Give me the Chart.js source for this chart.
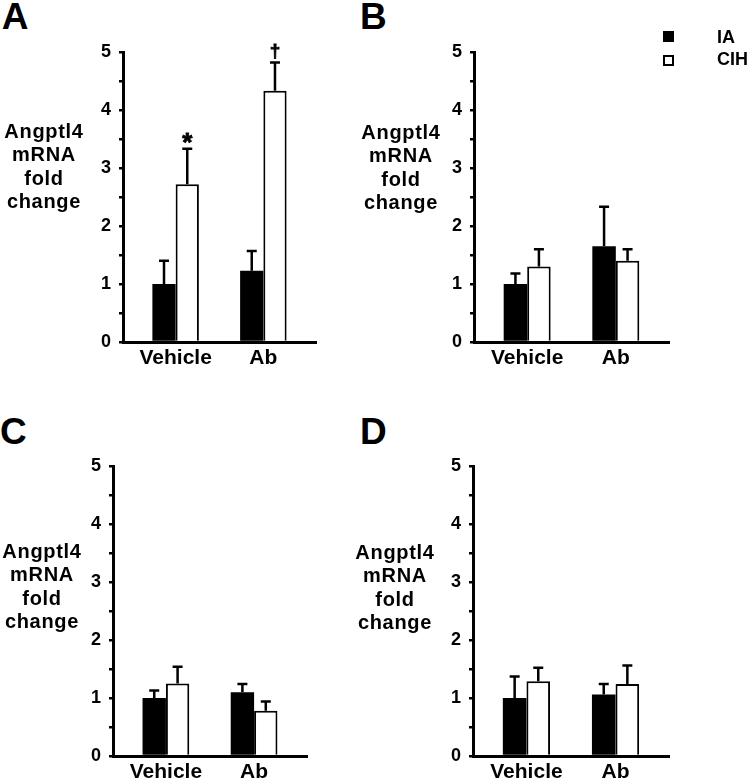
<!DOCTYPE html>
<html>
<head>
<meta charset="utf-8">
<script src="https://cdn.jsdelivr.net/npm/chart.js@4"></script>
<style>
  html, body { margin: 0; padding: 0; background: #fff; }
  #wrap { position: relative; width: 752px; height: 780px; overflow: hidden;
          font-family: "Liberation Sans", Arial, sans-serif; font-weight: bold; color: #000; }
  canvas { position: absolute; }
  .letter { position: absolute; font-size: 37px; line-height: 37px; }
  .ytitle { position: absolute; width: 110px; font-size: 20px; line-height: 23.4px; text-align: center; letter-spacing: 0.7px; }
  .lgbox { position: absolute; width: 11px; height: 11px; box-sizing: border-box; border: 2px solid #000; }
  .lgtext { position: absolute; font-size: 18px; line-height: 18px; }
</style>
</head>
<body>
<div id="wrap"></div>
<script>
// ---------- data ----------
const categories = ['Vehicle', 'Ab'];
const seriesNames = ['IA', 'CIH'];
const yTitleLines = ['Angptl4', 'mRNA', 'fold', 'change'];
const panelLetters = ['A', 'B', 'C', 'D'];

const meanA_IA  = [1.00, 1.23];
const semA_IA   = [0.40, 0.34];
const meanA_CIH = [2.72, 4.33];
const semA_CIH  = [0.61, 0.49];
const marksA_CIH = ['*', '\u2020'];

const meanB_IA  = [1.00, 1.65];
const semB_IA   = [0.18, 0.68];
const meanB_CIH = [1.30, 1.40];
const semB_CIH  = [0.30, 0.20];

const meanC_IA  = [1.00, 1.10];
const semC_IA   = [0.13, 0.14];
const meanC_CIH = [1.25, 0.78];
const semC_CIH  = [0.29, 0.16];

const meanD_IA  = [1.00, 1.06];
const semD_IA   = [0.37, 0.18];
const meanD_CIH = [1.29, 1.24];
const semD_CIH  = [0.23, 0.32];

const yMin = 0, yMax = 5, yStep = 0.5;

// ---------- layout ----------
const FONT = '"Liberation Sans", Arial, sans-serif';
Chart.defaults.font.family = FONT;
Chart.defaults.color = '#000';

const panels = [
  { letter: panelLetters[0], area: { l: 123, r: 316, t: 52, b: 342 }, letterPos: [1.7, -2], title: [44, 119.7],
    ia: [meanA_IA, semA_IA], cih: [meanA_CIH, semA_CIH], marks: marksA_CIH },
  { letter: panelLetters[1], area: { l: 474, r: 669, t: 52, b: 342 }, letterPos: [360, -2], title: [401, 120.7],
    ia: [meanB_IA, semB_IA], cih: [meanB_CIH, semB_CIH], marks: null },
  { letter: panelLetters[2], area: { l: 113, r: 307, t: 466, b: 756 }, letterPos: [0, 413], title: [42, 539.7],
    ia: [meanC_IA, semC_IA], cih: [meanC_CIH, semC_CIH], marks: null },
  { letter: panelLetters[3], area: { l: 473, r: 669, t: 466, b: 756 }, letterPos: [360, 413], title: [395, 540.7],
    ia: [meanD_IA, semD_IA], cih: [meanD_CIH, semD_CIH], marks: null }
];

const YW = 70, PT = 20, PR = 20, XH = 40;

const errorBars = {
  id: 'errorBars',
  afterDatasetsDraw(chart) {
    const ctx = chart.ctx;
    const ys = chart.scales.y;
    chart.data.datasets.forEach((ds, di) => {
      const meta = chart.getDatasetMeta(di);
      meta.data.forEach((bar, i) => {
        const top = ys.getPixelForValue(ds.data[i].y + ds.sem[i]);
        ctx.save();
        ctx.strokeStyle = '#000';
        ctx.lineWidth = 2.5;
        ctx.beginPath();
        ctx.moveTo(bar.x, bar.y);
        ctx.lineTo(bar.x, top);
        ctx.moveTo(bar.x - 5, top);
        ctx.lineTo(bar.x + 5, top);
        ctx.stroke();
        const mark = ds.marks ? ds.marks[i] : '';
        if (mark) {
          ctx.fillStyle = '#000';
          ctx.textAlign = 'center';
          ctx.textBaseline = 'alphabetic';
          ctx.lineWidth = 0.8;
          if (mark === '*') {
            ctx.font = 'bold 26px ' + FONT;
            ctx.fillText(mark, bar.x, top + 2);
            ctx.strokeText(mark, bar.x, top + 2);
          } else {
            ctx.font = 'bold 19px ' + FONT;
            ctx.fillText(mark, bar.x, top - 5.5);
            ctx.strokeText(mark, bar.x, top - 5.5);
          }
        }
        ctx.restore();
      });
    });
  }
};

const wrap = document.getElementById('wrap');

panels.forEach(p => {
  const a = p.area;
  const cw = (a.r - a.l) + YW + PR;
  const ch = (a.b - a.t) + PT + XH;
  const cv = document.createElement('canvas');
  cv.width = cw; cv.height = ch;
  cv.style.left = (a.l - YW) + 'px';
  cv.style.top = (a.t - PT) + 'px';
  cv.style.width = cw + 'px';
  cv.style.height = ch + 'px';
  wrap.appendChild(cv);

  new Chart(cv.getContext('2d'), {
    type: 'bar',
    data: {
      datasets: [
        { label: seriesNames[0], data: p.ia[0].map((v, i) => ({ x: i, y: v })), sem: p.ia[1],
          backgroundColor: '#000', borderColor: '#000', borderWidth: 0 },
        { label: seriesNames[1], data: p.cih[0].map((v, i) => ({ x: i, y: v })), sem: p.cih[1], marks: p.marks,
          backgroundColor: '#fff', borderColor: '#000', borderWidth: 2 }
      ]
    },
    options: {
      responsive: false,
      animation: false,
      devicePixelRatio: 1,
      categoryPercentage: 0.53,
      barPercentage: 1,
      layout: { padding: { top: PT, right: PR, left: 0, bottom: 0 } },
      plugins: { legend: { display: false }, tooltip: { enabled: false } },
      scales: {
        x: {
          type: 'linear', min: -0.6, max: 1.6, offset: false,
          grid: { display: false, drawTicks: false, offset: false },
          border: { display: true, color: '#000', width: 3 },
          afterBuildTicks: s => { s.ticks = categories.map((c, i) => ({ value: i })); },
          afterFit: s => { s.height = XH; },
          ticks: { callback: v => categories[v], font: { size: 21, weight: 'bold' }, color: '#000',
                   padding: 4, maxRotation: 0, autoSkip: false }
        },
        y: {
          min: yMin, max: yMax,
          grid: { drawOnChartArea: false, drawTicks: true, tickLength: 4, color: '#000', lineWidth: 2.5 },
          border: { display: true, color: '#000', width: 3 },
          afterFit: s => { s.width = YW; },
          ticks: { stepSize: yStep, autoSkip: false, padding: 8, color: '#000',
                   font: { size: 18, weight: 'bold' },
                   callback: v => Number.isInteger(v) ? String(v) : '' }
        }
      }
    },
    plugins: [errorBars]
  });

  const L = document.createElement('div');
  L.className = 'letter';
  L.textContent = p.letter;
  L.style.left = p.letterPos[0] + 'px';
  L.style.top = p.letterPos[1] + 'px';
  wrap.appendChild(L);

  const T = document.createElement('div');
  T.className = 'ytitle';
  T.innerHTML = yTitleLines.join('<br>');
  T.style.left = (p.title[0] - 55) + 'px';
  T.style.top = p.title[1] + 'px';
  wrap.appendChild(T);
});

// legend (panel B)
const legendItems = [
  { name: seriesNames[0], fill: '#000', boxTop: 31, textTop: 27.5 },
  { name: seriesNames[1], fill: '#fff', boxTop: 55, textTop: 49.8 }
];
legendItems.forEach(it => {
  const b = document.createElement('div');
  b.className = 'lgbox';
  b.style.left = '663px';
  b.style.top = it.boxTop + 'px';
  b.style.background = it.fill;
  wrap.appendChild(b);
  const t = document.createElement('div');
  t.className = 'lgtext';
  t.textContent = it.name;
  t.style.left = '717px';
  t.style.top = it.textTop + 'px';
  wrap.appendChild(t);
});
</script>
</body>
</html>
